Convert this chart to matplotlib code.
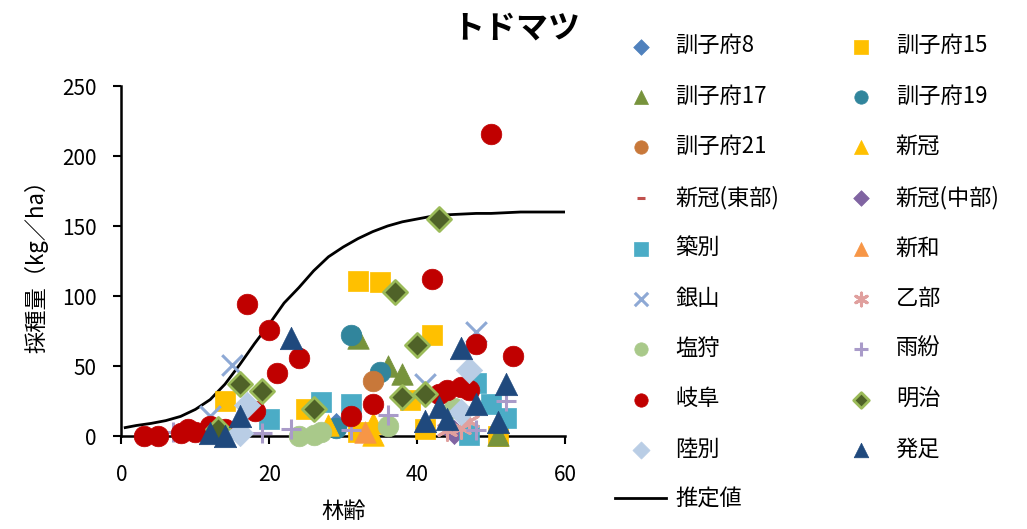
import matplotlib.pyplot as plt
import numpy as np

plt.rcParams['font.family'] = ['Noto Sans CJK JP', 'DejaVu Sans']

# 林齢 (x) と 採種量 (y) の観測値
kun8_x = [29]
kun8_y = [8]
kun15_x = [14, 25, 32, 35, 39, 42, 41, 32, 51]
kun15_y = [25, 19, 111, 110, 26, 72, 5, 3, 0]
kun17_x = [32, 36, 38, 51]
kun17_y = [70, 50, 44, 1]
kun19_x = [31, 35, 29]
kun19_y = [72, 46, 6]
kun21_x = [34]
kun21_y = [39]
nikap_x = [28, 34, 34]
nikap_y = [8, 1, 9]
nikap_e_x = [45, 46]
nikap_e_y = [5, 3]
nikap_c_x = [45]
nikap_c_y = [3]
chikubetsu_x = [20, 27, 31, 47, 48, 50, 52]
chikubetsu_y = [12, 24, 23, 1, 38, 23, 13]
niiwa_x = [33]
niiwa_y = [3]
ginzan_x = [12, 15, 41, 48]
ginzan_y = [14, 51, 37, 74]
otobe_x = [44, 46, 47]
otobe_y = [4, 6, 11]
shiokari_x = [24, 26, 27, 36, 45]
shiokari_y = [0, 1, 3, 7, 20]
urushin_x = [7, 19, 23, 31, 36, 48, 52]
urushin_y = [3, 2, 5, 4, 15, 4, 25]
gifu_x = [3, 5, 8, 9, 10, 12, 14, 17, 18, 20, 21, 24, 31, 34, 42, 43, 44, 46, 47, 48, 50, 53]
gifu_y = [0, 0, 2, 5, 3, 7, 5, 94, 18, 76, 45, 56, 14, 23, 112, 30, 33, 35, 33, 66, 216, 57]
meiji_x = [13, 16, 19, 26, 37, 38, 40, 41, 43]
meiji_y = [5, 37, 32, 19, 103, 28, 65, 30, 155]
rikubetsu_x = [16, 17, 46, 47]
rikubetsu_y = [2, 22, 17, 47]
hattari_x = [12, 14, 16, 23, 41, 43, 44, 46, 48, 51, 52]
hattari_y = [2, 0, 14, 70, 11, 21, 12, 63, 23, 10, 37]

# 推定値
est_x = [0.5, 2, 4, 6, 8, 10, 12, 14, 16, 18, 20, 22, 24, 26, 28, 30, 32, 34, 36, 38, 40, 42, 44, 46, 48, 50, 54, 60]
est_y = [6, 7.5, 9, 11, 14, 19, 26, 37, 51, 66, 80, 95, 106, 118, 128, 135, 141, 146, 150, 153, 155, 157, 158, 158.5, 159, 159, 160, 160]

series = [
    ('訓子府8', kun8_x, kun8_y, 'D', '#4F81BD', None, 150),
    ('訓子府15', kun15_x, kun15_y, 's', '#FFC000', None, 220),
    ('訓子府17', kun17_x, kun17_y, '^', '#77933C', None, 240),
    ('訓子府19', kun19_x, kun19_y, 'o', '#31859C', None, 220),
    ('訓子府21', kun21_x, kun21_y, 'o', '#C8783A', None, 220),
    ('新冠', nikap_x, nikap_y, '^', '#FFC000', None, 240),
    ('新冠(東部)', nikap_e_x, nikap_e_y, '_', '#C0504D', None, 80),
    ('新冠(中部)', nikap_c_x, nikap_c_y, 'D', '#8064A2', None, 150),
    ('築別', chikubetsu_x, chikubetsu_y, 's', '#4BACC6', None, 220),
    ('新和', niiwa_x, niiwa_y, '^', '#F79646', None, 240),
    ('銀山', ginzan_x, ginzan_y, 'x', '#8EA9D5', None, 220),
    ('乙部', otobe_x, otobe_y, (6, 2, 0), '#E0A09E', None, 200),
    ('塩狩', shiokari_x, shiokari_y, 'o', '#A9C98A', None, 220),
    ('雨紛', urushin_x, urushin_y, '+', '#A99BC9', None, 220),
    ('岐阜', gifu_x, gifu_y, 'o', '#C00000', None, 220),
    ('明治', meiji_x, meiji_y, 'D', '#4F6228', '#9BBB59', 150),
    ('陸別', rikubetsu_x, rikubetsu_y, 'D', '#B9CDE5', None, 180),
    ('発足', hattari_x, hattari_y, '^', '#1F497D', None, 260),
]

fig = plt.figure(figsize=(10.27, 5.29), dpi=100)
ax = fig.add_axes([0.1183, 0.1758, 0.4318, 0.6616])

line, = ax.plot(est_x, est_y, color='black', lw=2, zorder=2, label='推定値')

handles = {}
for i, (name, xs, ys, mk, col, edge, size) in enumerate(series):
    if mk in ('x', '+', '_') or isinstance(mk, tuple):
        h = ax.scatter(xs, ys, marker=mk, s=size, c=col, linewidths=2.2,
                       zorder=3 + i * 0.01, clip_on=False)
    else:
        h = ax.scatter(xs, ys, marker=mk, s=size, c=col,
                       edgecolors=edge if edge else col,
                       linewidths=2 if edge else 0.5,
                       zorder=3 + i * 0.01, clip_on=False)
    handles[name] = h

ax.set_xlim(0, 60)
ax.set_ylim(0, 250)
ax.set_xticks([0, 20, 40, 60])
ax.set_yticks([0, 50, 100, 150, 200, 250])
ax.tick_params(labelsize=15, length=6, width=1.5, direction='out')
ax.tick_params(axis='y', pad=12)
ax.tick_params(axis='x', pad=14)
for s in ['top', 'right']:
    ax.spines[s].set_visible(False)
for s in ['left', 'bottom']:
    ax.spines[s].set_linewidth(1.8)
    ax.spines[s].set_zorder(2.5)

ax.set_xlabel('林齢', fontsize=16, labelpad=10)
ax.set_ylabel('採種量（kg／ha）', fontsize=16, labelpad=10)
fig.text(0.503, 0.947, 'トドマツ', fontsize=23, fontweight='bold', ha='center', va='center')

# 2列の凡例 (列ごとに並べる)
col1 = ['訓子府8', '訓子府17', '訓子府21', '新冠(東部)', '築別', '銀山', '塩狩', '岐阜', '陸別']
col2 = ['訓子府15', '訓子府19', '新冠', '新冠(中部)', '新和', '乙部', '雨紛', '明治', '発足']
hs = [handles[n] for n in col1] + [line] + [handles[n] for n in col2]
ls = col1 + ['推定値'] + col2
fig.legend(hs, ls, ncol=2, loc='upper left', bbox_to_anchor=(0.599, 0.935),
           frameon=False, fontsize=16, markerscale=0.65, handlelength=2.3,
           handletextpad=0.4, labelspacing=1.23, columnspacing=2.55,
           borderpad=0, borderaxespad=0)

fig.savefig('out.png', dpi=100)
